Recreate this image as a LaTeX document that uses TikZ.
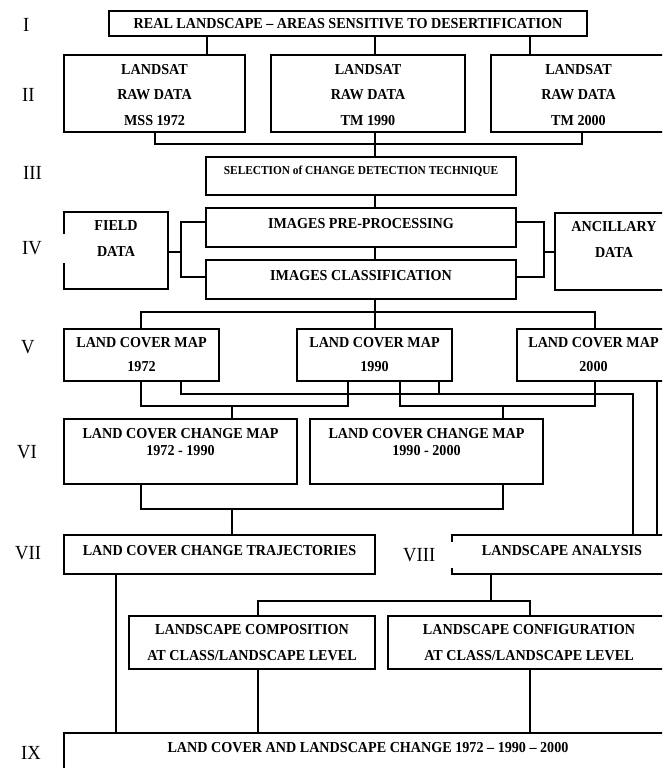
\documentclass[tikz,border=0pt]{standalone}
\usepackage{fontspec}
\setmainfont{Liberation Serif}[FakeStretch=0.93]
\usetikzlibrary{calc, positioning}

\tikzstyle{stage}   = [rectangle,draw=black,line width=1.4pt,inner sep=0pt,align=center,font=\bfseries\fontsize{15.2}{25.5}\selectfont]
\tikzstyle{numeral} = [inner sep=0pt,anchor=west,align=left,font=\fontsize{20}{20}\selectfont]
\tikzstyle{link}    = [line width=1.4pt]

\begin{document}
\begin{tikzpicture}[x=1pt,y=-1pt]
        \useasboundingbox (0,0) rectangle (662,768);
        \clip (0,0) rectangle (662,768);

        \node[stage,minimum width=478pt,minimum height=25pt]                (real)          at (348,23.5)   {REAL LANDSCAPE – AREAS SENSITIVE TO DESERTIFICATION};
        \node[stage,minimum width=181pt,minimum height=77pt,text height=64pt] (raw 1)       at (154.5,93.5) {LANDSAT\\RAW DATA\\MSS 1972};
        \node[stage,minimum width=194pt,minimum height=77pt,text height=64pt] (raw 2)       at (368,93.5)   {LANDSAT\\RAW DATA\\TM 1990};
        \node[stage,minimum width=175pt,minimum height=77pt,text height=64pt] (raw 3)       at (578.5,93.5) {LANDSAT\\RAW DATA\\TM 2000};
        \node[stage,minimum width=310pt,minimum height=38pt,text depth=12pt,
              font=\bfseries\fontsize{12.2}{13}\selectfont]                 (technique)     at (361,176)    {SELECTION of CHANGE DETECTION TECHNIQUE};
        \node[stage,minimum width=310pt,minimum height=39pt,text depth=9pt] (preproc)       at (361,227.5)  {IMAGES PRE-PROCESSING};
        \node[stage,minimum width=310pt,minimum height=39pt,text depth=9pt] (classif)       at (361,279.5)  {IMAGES CLASSIFICATION};
        \node[stage,minimum width=104pt,minimum height=77pt,text depth=23pt,
              font=\bfseries\fontsize{15.2}{26}\selectfont]                 (field)         at (116,250.5)  {FIELD\\DATA};
        \node[stage,minimum width=118pt,minimum height=77pt,text depth=24pt,
              font=\bfseries\fontsize{15.2}{26}\selectfont]                 (ancillary)     at (614,251.5)  {ANCILLARY\\DATA};
        \node[stage,minimum width=155pt,minimum height=52pt,
              font=\bfseries\fontsize{15.2}{24}\selectfont]                 (map 1)         at (141.5,355)  {LAND COVER MAP\\1972};
        \node[stage,minimum width=155pt,minimum height=52pt,
              font=\bfseries\fontsize{15.2}{24}\selectfont]                 (map 2)         at (374.5,355)  {LAND COVER MAP\\1990};
        \node[stage,minimum width=153pt,minimum height=52pt,
              font=\bfseries\fontsize{15.2}{24}\selectfont]                 (map 3)         at (593.5,355)  {LAND COVER MAP\\2000};
        \node[stage,minimum width=233pt,minimum height=65pt,text depth=20pt,
              font=\bfseries\fontsize{15.2}{17}\selectfont]                 (change 1)      at (180.5,451.5) {LAND COVER CHANGE MAP\\1972 - 1990};
        \node[stage,minimum width=233pt,minimum height=65pt,text depth=20pt,
              font=\bfseries\fontsize{15.2}{17}\selectfont]                 (change 2)      at (426.5,451.5) {LAND COVER CHANGE MAP\\1990 - 2000};
        \node[stage,minimum width=311pt,minimum height=39pt,text depth=9pt] (trajectories)  at (219.5,554.5) {LAND COVER CHANGE TRAJECTORIES};
        \node[stage,minimum width=220pt,minimum height=39pt,text depth=9pt] (analysis)      at (562,554.5)   {LANDSCAPE ANALYSIS};
        \node[stage,minimum width=246pt,minimum height=53pt,
              font=\bfseries\fontsize{15.2}{26}\selectfont]                 (composition)   at (252,642.5)   {LANDSCAPE COMPOSITION\\AT CLASS/LANDSCAPE LEVEL};
        \node[stage,minimum width=282pt,minimum height=53pt,
              font=\bfseries\fontsize{15.2}{26}\selectfont]                 (configuration) at (529,642.5)   {LANDSCAPE CONFIGURATION\\AT CLASS/LANDSCAPE LEVEL};
        \node[stage,minimum width=608pt,minimum height=42pt,text depth=14pt] (synthesis)    at (368,754)     {LAND COVER AND LANDSCAPE CHANGE 1972 – 1990 – 2000};

        \node[numeral]                                                      (stage I)       at (23,25)      {I};
        \node[numeral]                                                      (stage II)      at (22,95)      {II};
        \node[numeral]                                                      (stage III)     at (23,173)     {III};
        \node[numeral,fill=white,text width=44pt,minimum height=29pt]       (stage IV)      at (22,248)     {IV};
        \node[numeral]                                                      (stage V)       at (21,347)     {V};
        \node[numeral]                                                      (stage VI)      at (17,452)     {VI};
        \node[numeral]                                                      (stage VII)     at (15,553)     {VII};
        \node[numeral,fill=white,text width=51pt,minimum height=26pt]       (stage VIII)    at (403,555)    {VIII};
        \node[numeral]                                                      (stage IX)      at (21,753)     {IX};

        \foreach \x/\t in {207/raw 1, 375/raw 2, 530/raw 3}
            \draw[link] (real.south -| \x,0) -- (\t.north -| \x,0);
        \draw[link] (raw 1.south -| 155,0) -- (155,144) -| (raw 3.south -| 582,0);
        \draw[link] (raw 2.south -| 375,0) -- (technique.north -| 375,0);
        \draw[link] (technique.south -| 375,0) -- (preproc.north -| 375,0);
        \draw[link] (preproc.south -| 375,0) -- (classif.north -| 375,0);

        \draw[link] (preproc.west |- 0,222) -| (181,277) -- (classif.west |- 0,277);
        \draw[link] (field.east |- 0,252) -- (181,252);
        \draw[link] (preproc.east |- 0,222) -| (544,277) -- (classif.east |- 0,277);
        \draw[link] (ancillary.west |- 0,252) -- (544,252);

        \draw[link] (classif.south -| 375,0) -- (map 2.north -| 375,0);
        \draw[link] (map 1.north -| 141,0) -- (141,312) -| (map 3.north -| 595,0);

        \draw[link] (map 1.south -| 141,0) -- (141,406) -| (map 2.south -| 348,0);
        \draw[link] (232,406) -- (change 1.north -| 232,0);
        \draw[link] (map 2.south -| 400,0) -- (400,406) -| (map 3.south -| 595,0);
        \draw[link] (503,406) -- (change 2.north -| 503,0);
        \draw[link] (map 1.south -| 181,0) -- (181,394) -| (analysis.north -| 633,0);
        \draw[link] (map 2.south -| 439,0) -- (439,394);
        \draw[link] (map 3.south -| 657,0) -- (analysis.north -| 657,0);

        \draw[link] (change 1.south -| 141,0) -- (141,509) -| (change 2.south -| 503,0);
        \draw[link] (232,509) -- (trajectories.north -| 232,0);

        \draw[link] (trajectories.south -| 116,0) -- (synthesis.north -| 116,0);
        \draw[link] (analysis.south -| 491,0) -- (491,601);
        \draw[link] (composition.north -| 258,0) -- (258,601) -| (configuration.north -| 530,0);
        \draw[link] (composition.south -| 258,0) -- (synthesis.north -| 258,0);
        \draw[link] (configuration.south -| 530,0) -- (synthesis.north -| 530,0);
\end{tikzpicture}
\end{document}
